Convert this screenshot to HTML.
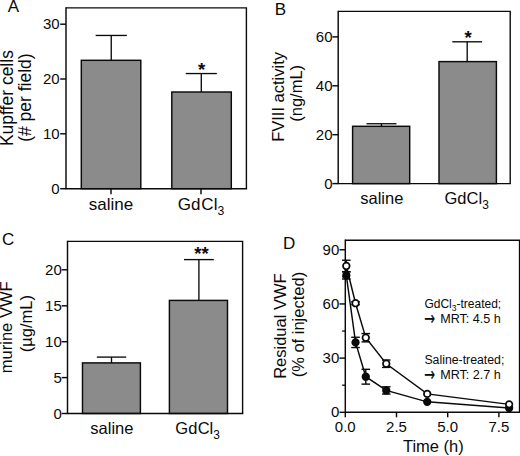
<!DOCTYPE html>
<html lang="en">
<head>
<meta charset="utf-8">
<title>Figure: GdCl3 treatment and VWF clearance</title>
<style>
html,body{margin:0;padding:0;background:#fff;}
body{width:520px;height:456px;overflow:hidden;}
svg{display:block;font-family:"Liberation Sans", Arial, Helvetica, sans-serif;fill:#0a0a0a;}
</style>
</head>
<body>
<svg width="520" height="456" viewBox="0 0 520 456">
<rect x="0" y="0" width="520" height="456" fill="#ffffff" stroke="none"/>
<rect x="81.30" y="60.30" width="59.50" height="128.40" fill="#8b8b8b" stroke="#0a0a0a" stroke-width="1.45"/>
<line x1="111.25" y1="60.30" x2="111.25" y2="35.45" stroke="#0a0a0a" stroke-width="1.35" stroke-linecap="butt"/>
<line x1="95.65" y1="35.45" x2="126.85" y2="35.45" stroke="#0a0a0a" stroke-width="1.35" stroke-linecap="butt"/>
<rect x="171.80" y="92.00" width="59.50" height="96.70" fill="#8b8b8b" stroke="#0a0a0a" stroke-width="1.45"/>
<line x1="201.30" y1="92.00" x2="201.30" y2="73.55" stroke="#0a0a0a" stroke-width="1.35" stroke-linecap="butt"/>
<line x1="185.75" y1="73.55" x2="216.85" y2="73.55" stroke="#0a0a0a" stroke-width="1.35" stroke-linecap="butt"/>
<polyline points="66.00,7.90 246.40,7.90 246.40,188.70" fill="none" stroke="#0a0a0a" stroke-width="1.4"/>
<polyline points="66.00,7.20 66.00,188.70 247.10,188.70" fill="none" stroke="#0a0a0a" stroke-width="1.45"/>
<line x1="60.20" y1="24.20" x2="66.00" y2="24.20" stroke="#0a0a0a" stroke-width="1.45" stroke-linecap="butt"/>
<text x="59.70" y="29.20" font-size="15" text-anchor="end">30</text>
<line x1="60.20" y1="79.00" x2="66.00" y2="79.00" stroke="#0a0a0a" stroke-width="1.45" stroke-linecap="butt"/>
<text x="59.70" y="84.00" font-size="15" text-anchor="end">20</text>
<line x1="60.20" y1="133.80" x2="66.00" y2="133.80" stroke="#0a0a0a" stroke-width="1.45" stroke-linecap="butt"/>
<text x="59.70" y="138.80" font-size="15" text-anchor="end">10</text>
<line x1="60.20" y1="188.70" x2="66.00" y2="188.70" stroke="#0a0a0a" stroke-width="1.45" stroke-linecap="butt"/>
<text x="59.70" y="193.70" font-size="15" text-anchor="end">0</text>
<line x1="111.00" y1="188.70" x2="111.00" y2="194.20" stroke="#0a0a0a" stroke-width="1.45" stroke-linecap="butt"/>
<line x1="201.00" y1="188.70" x2="201.00" y2="194.20" stroke="#0a0a0a" stroke-width="1.45" stroke-linecap="butt"/>
<text x="111.00" y="209.80" font-size="17" text-anchor="middle">saline</text>
<text x="201.00" y="209.80" font-size="17" text-anchor="middle">Gd<tspan dx="0.9">Cl</tspan><tspan font-size="12.2" dy="5.1">3</tspan></text>
<text x="201.60" y="75.60" font-size="18.5" text-anchor="middle" font-weight="bold">*</text>
<text x="7.80" y="12.00" font-size="17" text-anchor="start">A</text>
<text x="13.20" y="98.10" font-size="17.5" text-anchor="middle" transform="rotate(-90 13.20 98.10)">Kupffer cells</text>
<text x="31.30" y="97.60" font-size="17.5" text-anchor="middle" transform="rotate(-90 31.30 97.60)">(# per field)</text>
<rect x="352.60" y="126.30" width="57.10" height="57.30" fill="#8b8b8b" stroke="#0a0a0a" stroke-width="1.45"/>
<line x1="381.45" y1="126.30" x2="381.45" y2="123.75" stroke="#0a0a0a" stroke-width="1.35" stroke-linecap="butt"/>
<line x1="366.45" y1="123.75" x2="396.45" y2="123.75" stroke="#0a0a0a" stroke-width="1.35" stroke-linecap="butt"/>
<rect x="439.00" y="61.60" width="57.40" height="122.00" fill="#8b8b8b" stroke="#0a0a0a" stroke-width="1.45"/>
<line x1="467.20" y1="61.60" x2="467.20" y2="41.80" stroke="#0a0a0a" stroke-width="1.35" stroke-linecap="butt"/>
<line x1="452.30" y1="41.80" x2="482.10" y2="41.80" stroke="#0a0a0a" stroke-width="1.35" stroke-linecap="butt"/>
<polyline points="338.20,11.40 510.20,11.40 510.20,183.60" fill="none" stroke="#0a0a0a" stroke-width="1.4"/>
<polyline points="338.20,10.70 338.20,183.60 510.90,183.60" fill="none" stroke="#0a0a0a" stroke-width="1.45"/>
<line x1="332.40" y1="36.90" x2="338.20" y2="36.90" stroke="#0a0a0a" stroke-width="1.45" stroke-linecap="butt"/>
<text x="332.50" y="41.90" font-size="15" text-anchor="end">60</text>
<line x1="332.40" y1="85.80" x2="338.20" y2="85.80" stroke="#0a0a0a" stroke-width="1.45" stroke-linecap="butt"/>
<text x="332.50" y="90.80" font-size="15" text-anchor="end">40</text>
<line x1="332.40" y1="134.70" x2="338.20" y2="134.70" stroke="#0a0a0a" stroke-width="1.45" stroke-linecap="butt"/>
<text x="332.50" y="139.70" font-size="15" text-anchor="end">20</text>
<line x1="332.40" y1="183.60" x2="338.20" y2="183.60" stroke="#0a0a0a" stroke-width="1.45" stroke-linecap="butt"/>
<text x="332.50" y="188.60" font-size="15" text-anchor="end">0</text>
<text x="381.80" y="203.80" font-size="16.5" text-anchor="middle">saline</text>
<text x="466.60" y="203.80" font-size="16.5" text-anchor="middle">Gd<tspan dx="0.1">Cl</tspan><tspan font-size="11.9" dy="5.0">3</tspan></text>
<text x="468.00" y="43.60" font-size="18.5" text-anchor="middle" font-weight="bold">*</text>
<text x="274.70" y="14.70" font-size="17" text-anchor="start">B</text>
<text x="284.10" y="96.90" font-size="16.5" text-anchor="middle" transform="rotate(-90 284.10 96.90)">FVIII activity</text>
<text x="302.20" y="93.30" font-size="16.5" text-anchor="middle" transform="rotate(-90 302.20 93.30)">(ng/mL)</text>
<rect x="82.50" y="362.90" width="57.90" height="50.60" fill="#8b8b8b" stroke="#0a0a0a" stroke-width="1.45"/>
<line x1="111.50" y1="362.90" x2="111.50" y2="357.10" stroke="#0a0a0a" stroke-width="1.35" stroke-linecap="butt"/>
<line x1="96.80" y1="357.10" x2="126.20" y2="357.10" stroke="#0a0a0a" stroke-width="1.35" stroke-linecap="butt"/>
<rect x="169.40" y="300.40" width="58.10" height="113.10" fill="#8b8b8b" stroke="#0a0a0a" stroke-width="1.45"/>
<line x1="198.90" y1="300.40" x2="198.90" y2="259.60" stroke="#0a0a0a" stroke-width="1.35" stroke-linecap="butt"/>
<line x1="184.00" y1="259.60" x2="213.80" y2="259.60" stroke="#0a0a0a" stroke-width="1.35" stroke-linecap="butt"/>
<polyline points="67.50,241.40 242.60,241.40 242.60,413.50" fill="none" stroke="#0a0a0a" stroke-width="1.4"/>
<polyline points="67.50,240.70 67.50,413.50 243.30,413.50" fill="none" stroke="#0a0a0a" stroke-width="1.45"/>
<line x1="61.70" y1="269.80" x2="67.50" y2="269.80" stroke="#0a0a0a" stroke-width="1.45" stroke-linecap="butt"/>
<text x="61.80" y="274.80" font-size="15" text-anchor="end">20</text>
<line x1="61.70" y1="305.80" x2="67.50" y2="305.80" stroke="#0a0a0a" stroke-width="1.45" stroke-linecap="butt"/>
<text x="61.80" y="310.80" font-size="15" text-anchor="end">15</text>
<line x1="61.70" y1="341.70" x2="67.50" y2="341.70" stroke="#0a0a0a" stroke-width="1.45" stroke-linecap="butt"/>
<text x="61.80" y="346.70" font-size="15" text-anchor="end">10</text>
<line x1="61.70" y1="377.60" x2="67.50" y2="377.60" stroke="#0a0a0a" stroke-width="1.45" stroke-linecap="butt"/>
<text x="61.80" y="382.60" font-size="15" text-anchor="end">5</text>
<line x1="61.70" y1="413.50" x2="67.50" y2="413.50" stroke="#0a0a0a" stroke-width="1.45" stroke-linecap="butt"/>
<text x="61.80" y="418.50" font-size="15" text-anchor="end">0</text>
<text x="111.90" y="433.60" font-size="16.5" text-anchor="middle">saline</text>
<text x="197.60" y="433.60" font-size="16.5" text-anchor="middle">Gd<tspan dx="0.3">Cl</tspan><tspan font-size="11.9" dy="5.0">3</tspan></text>
<text x="201.50" y="260.20" font-size="18.5" text-anchor="middle" font-weight="bold">**</text>
<text x="1.90" y="245.30" font-size="17" text-anchor="start">C</text>
<text x="12.50" y="327.30" font-size="16.5" text-anchor="middle" transform="rotate(-90 12.50 327.30)">murine VWF</text>
<text x="32.20" y="323.60" font-size="16.5" text-anchor="middle" transform="rotate(-90 32.20 323.60)">(µg/mL)</text>
<polyline points="345.30,240.30 519.60,240.30 519.60,412.30" fill="none" stroke="#0a0a0a" stroke-width="1.5"/>
<polyline points="345.30,239.55 345.30,412.30 520.35,412.30" fill="none" stroke="#0a0a0a" stroke-width="1.45"/>
<line x1="339.50" y1="249.76" x2="345.30" y2="249.76" stroke="#0a0a0a" stroke-width="1.45" stroke-linecap="butt"/>
<text x="339.30" y="254.76" font-size="15" text-anchor="end">90</text>
<line x1="339.50" y1="303.94" x2="345.30" y2="303.94" stroke="#0a0a0a" stroke-width="1.45" stroke-linecap="butt"/>
<text x="339.30" y="308.94" font-size="15" text-anchor="end">60</text>
<line x1="339.50" y1="358.12" x2="345.30" y2="358.12" stroke="#0a0a0a" stroke-width="1.45" stroke-linecap="butt"/>
<text x="339.30" y="363.12" font-size="15" text-anchor="end">30</text>
<line x1="339.50" y1="412.30" x2="345.30" y2="412.30" stroke="#0a0a0a" stroke-width="1.45" stroke-linecap="butt"/>
<text x="339.30" y="417.30" font-size="15" text-anchor="end">0</text>
<line x1="342.10" y1="385.21" x2="345.30" y2="385.21" stroke="#0a0a0a" stroke-width="1.3" stroke-linecap="butt"/>
<line x1="342.10" y1="331.03" x2="345.30" y2="331.03" stroke="#0a0a0a" stroke-width="1.3" stroke-linecap="butt"/>
<line x1="342.10" y1="276.85" x2="345.30" y2="276.85" stroke="#0a0a0a" stroke-width="1.3" stroke-linecap="butt"/>
<line x1="345.30" y1="412.30" x2="345.30" y2="417.30" stroke="#0a0a0a" stroke-width="1.45" stroke-linecap="butt"/>
<text x="345.30" y="431.80" font-size="15" text-anchor="middle">0.0</text>
<line x1="396.50" y1="412.30" x2="396.50" y2="417.30" stroke="#0a0a0a" stroke-width="1.45" stroke-linecap="butt"/>
<text x="396.50" y="431.80" font-size="15" text-anchor="middle">2.5</text>
<line x1="447.70" y1="412.30" x2="447.70" y2="417.30" stroke="#0a0a0a" stroke-width="1.45" stroke-linecap="butt"/>
<text x="447.70" y="431.80" font-size="15" text-anchor="middle">5.0</text>
<line x1="498.90" y1="412.30" x2="498.90" y2="417.30" stroke="#0a0a0a" stroke-width="1.45" stroke-linecap="butt"/>
<text x="498.90" y="431.80" font-size="15" text-anchor="middle">7.5</text>
<text x="433.40" y="452.00" font-size="16.5" text-anchor="middle">Time (h)</text>
<text x="283.00" y="248.80" font-size="17" text-anchor="start">D</text>
<text x="285.80" y="326.10" font-size="16.5" text-anchor="middle" transform="rotate(-90 285.80 326.10)">Residual VWF</text>
<text x="304.50" y="324.60" font-size="16.5" text-anchor="middle" transform="rotate(-90 304.50 324.60)">(% of injected)</text>
<polyline points="346.32,275.41 355.54,342.41 365.78,376.72 386.26,390.45 427.22,401.83 509.14,407.97" fill="none" stroke="#0a0a0a" stroke-width="1.45"/>
<line x1="346.32" y1="271.79" x2="346.32" y2="279.02" stroke="#0a0a0a" stroke-width="1.4" stroke-linecap="butt"/>
<line x1="342.02" y1="271.79" x2="350.62" y2="271.79" stroke="#0a0a0a" stroke-width="1.4" stroke-linecap="butt"/>
<line x1="342.02" y1="279.02" x2="350.62" y2="279.02" stroke="#0a0a0a" stroke-width="1.4" stroke-linecap="butt"/>
<line x1="355.54" y1="337.26" x2="355.54" y2="347.55" stroke="#0a0a0a" stroke-width="1.4" stroke-linecap="butt"/>
<line x1="351.24" y1="337.26" x2="359.84" y2="337.26" stroke="#0a0a0a" stroke-width="1.4" stroke-linecap="butt"/>
<line x1="351.24" y1="347.55" x2="359.84" y2="347.55" stroke="#0a0a0a" stroke-width="1.4" stroke-linecap="butt"/>
<line x1="365.78" y1="369.32" x2="365.78" y2="384.13" stroke="#0a0a0a" stroke-width="1.4" stroke-linecap="butt"/>
<line x1="361.48" y1="369.32" x2="370.08" y2="369.32" stroke="#0a0a0a" stroke-width="1.4" stroke-linecap="butt"/>
<line x1="361.48" y1="384.13" x2="370.08" y2="384.13" stroke="#0a0a0a" stroke-width="1.4" stroke-linecap="butt"/>
<line x1="386.26" y1="386.84" x2="386.26" y2="394.06" stroke="#0a0a0a" stroke-width="1.4" stroke-linecap="butt"/>
<line x1="381.96" y1="386.84" x2="390.56" y2="386.84" stroke="#0a0a0a" stroke-width="1.4" stroke-linecap="butt"/>
<line x1="381.96" y1="394.06" x2="390.56" y2="394.06" stroke="#0a0a0a" stroke-width="1.4" stroke-linecap="butt"/>
<circle cx="346.32" cy="275.41" r="3.3" fill="#0a0a0a" stroke="#0a0a0a" stroke-width="1.7"/>
<circle cx="355.54" cy="342.41" r="3.3" fill="#0a0a0a" stroke="#0a0a0a" stroke-width="1.7"/>
<circle cx="365.78" cy="376.72" r="3.3" fill="#0a0a0a" stroke="#0a0a0a" stroke-width="1.7"/>
<circle cx="386.26" cy="390.45" r="3.3" fill="#0a0a0a" stroke="#0a0a0a" stroke-width="1.7"/>
<circle cx="427.22" cy="401.83" r="3.3" fill="#0a0a0a" stroke="#0a0a0a" stroke-width="1.7"/>
<circle cx="509.14" cy="407.97" r="3.3" fill="#0a0a0a" stroke="#0a0a0a" stroke-width="1.7"/>
<polyline points="346.32,266.01 355.54,303.22 365.78,337.71 386.26,363.72 427.22,393.88 509.14,404.35" fill="none" stroke="#0a0a0a" stroke-width="1.45"/>
<line x1="346.32" y1="260.23" x2="346.32" y2="271.79" stroke="#0a0a0a" stroke-width="1.4" stroke-linecap="butt"/>
<line x1="342.02" y1="260.23" x2="350.62" y2="260.23" stroke="#0a0a0a" stroke-width="1.4" stroke-linecap="butt"/>
<line x1="342.02" y1="271.79" x2="350.62" y2="271.79" stroke="#0a0a0a" stroke-width="1.4" stroke-linecap="butt"/>
<line x1="351.24" y1="301.77" x2="359.84" y2="301.77" stroke="#0a0a0a" stroke-width="1.4" stroke-linecap="butt"/>
<line x1="351.24" y1="304.66" x2="359.84" y2="304.66" stroke="#0a0a0a" stroke-width="1.4" stroke-linecap="butt"/>
<line x1="355.54" y1="301.77" x2="355.54" y2="304.66" stroke="#0a0a0a" stroke-width="1.4" stroke-linecap="butt"/>
<line x1="365.78" y1="333.56" x2="365.78" y2="341.87" stroke="#0a0a0a" stroke-width="1.4" stroke-linecap="butt"/>
<line x1="361.48" y1="333.56" x2="370.08" y2="333.56" stroke="#0a0a0a" stroke-width="1.4" stroke-linecap="butt"/>
<line x1="361.48" y1="341.87" x2="370.08" y2="341.87" stroke="#0a0a0a" stroke-width="1.4" stroke-linecap="butt"/>
<line x1="386.26" y1="360.02" x2="386.26" y2="367.42" stroke="#0a0a0a" stroke-width="1.4" stroke-linecap="butt"/>
<line x1="381.96" y1="360.02" x2="390.56" y2="360.02" stroke="#0a0a0a" stroke-width="1.4" stroke-linecap="butt"/>
<line x1="381.96" y1="367.42" x2="390.56" y2="367.42" stroke="#0a0a0a" stroke-width="1.4" stroke-linecap="butt"/>
<circle cx="346.32" cy="266.01" r="3.3" fill="#fff" stroke="#0a0a0a" stroke-width="1.7"/>
<circle cx="355.54" cy="303.22" r="3.3" fill="#fff" stroke="#0a0a0a" stroke-width="1.7"/>
<circle cx="365.78" cy="337.71" r="3.3" fill="#fff" stroke="#0a0a0a" stroke-width="1.7"/>
<circle cx="386.26" cy="363.72" r="3.3" fill="#fff" stroke="#0a0a0a" stroke-width="1.7"/>
<circle cx="427.22" cy="393.88" r="3.3" fill="#fff" stroke="#0a0a0a" stroke-width="1.7"/>
<circle cx="509.14" cy="404.35" r="3.3" fill="#fff" stroke="#0a0a0a" stroke-width="1.7"/>
<text x="424.40" y="308.30" font-size="12" text-anchor="start">GdCl<tspan font-size="8.5" dy="3">3</tspan><tspan dy="-3">-treated;</tspan></text>
<text transform="translate(424.20 324.60) scale(0.86 1.3)" x="0" y="0" font-family="DejaVu Sans, sans-serif" font-weight="normal" font-size="15" stroke="#0a0a0a" stroke-width="0.2">→</text>
<text x="440.20" y="322.80" font-size="12.6" text-anchor="start">MRT: 4.5 h</text>
<text x="424.40" y="364.20" font-size="12.3" text-anchor="start">Saline-treated;</text>
<text transform="translate(424.20 381.10) scale(0.86 1.3)" x="0" y="0" font-family="DejaVu Sans, sans-serif" font-weight="normal" font-size="15" stroke="#0a0a0a" stroke-width="0.2">→</text>
<text x="440.20" y="379.30" font-size="12.6" text-anchor="start">MRT: 2.7 h</text>
</svg>
</body>
</html>
